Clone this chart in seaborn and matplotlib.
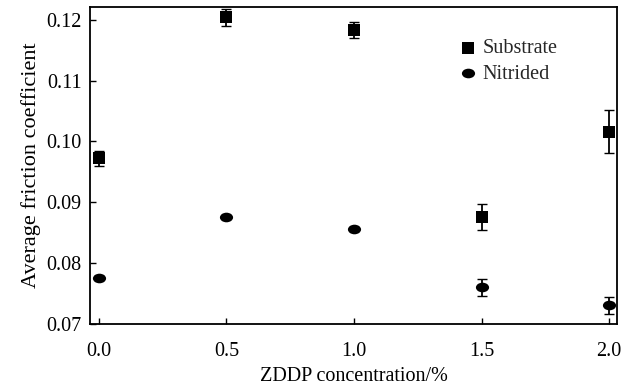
import matplotlib
matplotlib.use("Agg")
import matplotlib.pyplot as plt
from matplotlib.path import Path
from matplotlib.transforms import Affine2D
import seaborn as sns
import pandas as pd

conc = [0.0, 0.5, 1.0, 1.5, 2.0]
substrate = [0.0972, 0.1204, 0.1183, 0.0876, 0.1016]
substrate_err = [0.0013, 0.0014, 0.0013, 0.0021, 0.0035]
nitrided = [0.0776, 0.0876, 0.0856, 0.0760, 0.0731]
nitrided_err = [0.0002, 0.0002, 0.0002, 0.0014, 0.0014]

sns.set_theme(style="ticks")
plt.rcParams['font.family'] = ['Liberation Serif', 'DejaVu Serif']

df_sub = pd.DataFrame({"conc": conc, "value": substrate, "err": substrate_err, "series": "Substrate"})
df_nit = pd.DataFrame({"conc": conc, "value": nitrided, "err": nitrided_err, "series": "Nitrided"})

oval = Affine2D().scale(1.3, 0.95).transform_path(Path.unit_circle())

fig = plt.figure(figsize=(6.22, 3.87), dpi=100)
ax = fig.add_axes([0.1447, 0.163, 0.8473, 0.819])

for g in (df_sub, df_nit):
    ax.errorbar(g["conc"], g["value"], yerr=g["err"], fmt="none",
                ecolor="black", elinewidth=1.3, capsize=3.5, capthick=1.0, zorder=2)

sns.scatterplot(data=df_sub, x="conc", y="value", label="Substrate", marker="s",
                color="black", s=65, edgecolor="black", linewidth=0, ax=ax, zorder=3)
sns.scatterplot(data=df_nit, x="conc", y="value", label="Nitrided", marker=oval,
                color="black", s=90, edgecolor="black", linewidth=0, ax=ax, zorder=3)

ax.set_xlim(-0.035, 2.031)
ax.set_ylim(0.07, 0.1221)
ax.set_xticks([0.0, 0.5, 1.0, 1.5, 2.0])
ax.set_xticklabels(["0.0", "0.5", "1.0", "1.5", "2.0"])
ax.set_yticks([0.07, 0.08, 0.09, 0.10, 0.11, 0.12])
ax.set_yticklabels(["0.07", "0.08", "0.09", "0.10", "0.11", "0.12"])
ax.tick_params(direction="in", length=4, width=1, labelsize=14.5, colors="black")
ax.tick_params(axis="x", pad=13)
ax.tick_params(axis="y", pad=6)
for sp in ax.spines.values():
    sp.set_visible(True)
    sp.set_linewidth(1.3)
    sp.set_color("black")

ax.set_xlabel("ZDDP concentration/%", fontsize=14.5, color="black", labelpad=4)
ax.set_ylabel("Average friction coefficient", fontsize=16, color="black", labelpad=4)

leg = ax.legend(loc="upper left", bbox_to_anchor=(0.645, 0.955), frameon=False,
                fontsize=14.5, handletextpad=-0.3, labelspacing=0.3, markerscale=1.0)

fig.savefig("out.png", dpi=100)
